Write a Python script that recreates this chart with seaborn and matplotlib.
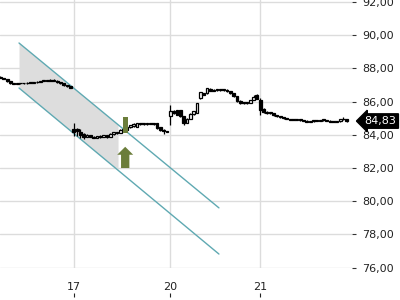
import numpy as np
import pandas as pd
import matplotlib
matplotlib.use("Agg")
import matplotlib.pyplot as plt
import matplotlib.transforms as mtransforms
from matplotlib.ticker import FuncFormatter
import seaborn as sns

# ---------------- data ----------------
opens = [87.50, 87.42, 87.36, 87.24, 87.12, 87.08, 87.10, 87.12, 87.10, 87.13,
         87.12, 87.16, 87.18, 87.24, 87.28, 87.26, 87.32, 87.26, 87.16, 87.10,
         87.00, 86.92,
         84.38, 84.38, 84.15, 84.05, 83.88, 83.98, 83.88, 83.82, 83.92, 83.86,
         83.98, 83.86, 84.02, 84.16, 84.12, 84.30, 84.30, 84.48, 84.52, 84.50,
         84.68, 84.64, 84.68, 84.66, 84.70, 84.72, 84.46, 84.32, 84.22,
         85.13, 85.45, 85.48, 85.50, 85.12, 84.74, 84.98, 85.24, 85.32, 86.20,
         86.50, 86.50, 86.76, 86.66, 86.70, 86.68, 86.68, 86.72, 86.62, 86.50,
         86.34, 86.06, 85.92, 85.90, 85.92, 86.10, 86.42,
         86.08, 85.56, 85.40, 85.36, 85.30, 85.20, 85.10, 85.06, 85.00, 84.96,
         84.90, 84.90, 84.92, 84.88, 84.86, 84.80, 84.82, 84.85, 84.84, 84.88,
         84.90, 84.85, 84.80, 84.79, 84.82, 84.96, 84.93]
closes = [87.42, 87.36, 87.22, 87.10, 87.08, 87.10, 87.12, 87.10, 87.13, 87.12,
          87.16, 87.18, 87.24, 87.28, 87.26, 87.32, 87.26, 87.16, 87.10, 87.00,
          86.92, 86.84,
          84.15, 84.22, 83.98, 83.88, 84.00, 83.88, 83.82, 83.92, 83.86, 83.98,
          83.84, 84.06, 84.16, 84.10, 84.32, 84.38, 84.50, 84.58, 84.68, 84.72,
          84.64, 84.68, 84.66, 84.70, 84.66, 84.42, 84.28, 84.22, 84.20,
          85.45, 85.32, 85.22, 85.12, 84.74, 84.98, 85.26, 85.42, 85.92, 86.56,
          86.42, 86.80, 86.66, 86.70, 86.68, 86.70, 86.72, 86.62, 86.50, 86.34,
          86.06, 85.92, 85.90, 85.94, 86.10, 86.30, 86.18,
          85.52, 85.36, 85.30, 85.30, 85.20, 85.12, 85.06, 85.00, 84.96, 84.90,
          84.90, 84.92, 84.88, 84.86, 84.80, 84.82, 84.85, 84.84, 84.88, 84.90,
          84.85, 84.80, 84.79, 84.84, 84.96, 84.93, 84.83]
highs = [87.52, 87.44, 87.38, 87.26, 87.14, 87.12, 87.14, 87.14, 87.16, 87.15,
         87.18, 87.22, 87.26, 87.32, 87.30, 87.34, 87.34, 87.28, 87.18, 87.12,
         87.02, 86.94,
         84.72, 84.42, 84.38, 84.10, 84.04, 84.00, 83.92, 83.95, 83.96, 84.00,
         84.00, 84.08, 84.18, 84.18, 84.34, 84.42, 84.52, 84.62, 84.70, 84.74,
         84.72, 84.72, 84.70, 84.74, 84.72, 84.74, 84.50, 84.36, 84.24,
         85.80, 85.50, 85.50, 85.52, 85.14, 85.00, 85.30, 85.46, 85.94, 86.58,
         86.54, 86.84, 86.80, 86.74, 86.72, 86.74, 86.76, 86.74, 86.64, 86.52,
         86.36, 86.08, 85.94, 85.96, 86.12, 86.40, 86.48,
         86.20, 85.64, 85.44, 85.38, 85.32, 85.22, 85.12, 85.08, 85.02, 84.98,
         84.92, 84.94, 84.94, 84.90, 84.88, 84.84, 84.87, 84.87, 84.90, 84.92,
         84.92, 84.87, 84.82, 84.86, 84.98, 85.10, 84.95]
lows = [87.40, 87.34, 87.20, 87.08, 87.06, 87.06, 87.08, 87.08, 87.08, 87.10,
        87.10, 87.14, 87.16, 87.22, 87.22, 87.24, 87.22, 87.14, 87.06, 86.96,
        86.88, 86.80,
        83.95, 83.90, 83.80, 83.72, 83.84, 83.84, 83.78, 83.78, 83.82, 83.84,
        83.80, 83.84, 84.00, 84.06, 84.10, 84.26, 84.28, 84.42, 84.50, 84.48,
        84.60, 84.62, 84.62, 84.64, 84.60, 84.38, 84.22, 84.06, 84.18,
        84.60, 85.28, 85.18, 85.08, 84.60, 84.70, 84.96, 85.20, 85.30, 86.16,
        86.38, 86.48, 86.62, 86.64, 86.64, 86.66, 86.66, 86.58, 86.46, 86.30,
        86.00, 85.88, 85.86, 85.88, 85.90, 86.08, 86.14,
        85.20, 85.30, 85.24, 85.26, 85.16, 85.08, 85.02, 84.98, 84.94, 84.88,
        84.88, 84.88, 84.86, 84.84, 84.78, 84.78, 84.80, 84.82, 84.82, 84.86,
        84.83, 84.78, 84.77, 84.77, 84.80, 84.90, 84.80]

day_tick_index = [22, 51, 78]
day_tick_labels = ["17", "20", "21"]
y_ticks = [76, 78, 80, 82, 84, 86, 88, 90, 92]

channel_x = [5.56, 65.6]
channel_upper = [89.53, 79.60]
channel_lower = [86.82, 76.82]
shade_end_x = 35.3

signal_x = 37.45
signal_bar = [84.12, 85.07]
arrow_base, arrow_tip = 82.0, 83.28

last_price = closes[-1]

# ---------------- figure ----------------
sns.set_style("white")
plt.rcParams["font.family"] = ["DejaVu Sans"]

df = pd.DataFrame({"idx": np.arange(len(closes)), "open": opens, "high": highs,
                   "low": lows, "close": closes})

fig = plt.figure(figsize=(4, 3), dpi=100)
ax = fig.add_axes([0.0, 0.1067, 0.88, 0.8933])
ax.set_xlim(-0.15, 105.56)
ax.set_ylim(75.98, 92.12)

grid_c = "#dcdcdc"
for t in y_ticks:
    ax.axhline(t, color=grid_c, lw=1, zorder=0)
for t in day_tick_index:
    ax.axvline(t, color=grid_c, lw=1, zorder=0)

# channel shading
xs = np.array([channel_x[0], shade_end_x])
up = np.interp(xs, channel_x, channel_upper)
lo = np.interp(xs, channel_x, channel_lower)
ax.fill_between(xs, lo, up, color="#dddddd", zorder=1, lw=0)

chan = pd.DataFrame({"x": channel_x * 2,
                     "y": channel_upper + channel_lower,
                     "line": ["upper"] * 2 + ["lower"] * 2})
sns.lineplot(data=chan, x="x", y="y", units="line", estimator=None,
             color="#5fa9b2", lw=1, ax=ax, zorder=2)

# candles
ax.vlines(df["idx"], df["low"], df["high"], color="black", lw=0.9, zorder=3)
body_bottom = np.minimum(df["open"], df["close"])
body_h = np.maximum(np.abs(df["close"] - df["open"]), 0.05)
up_mask = df["close"] > df["open"]
ax.bar(df["idx"], body_h, bottom=body_bottom, width=0.85,
       color=np.where(up_mask, "white", "black"), edgecolor="black",
       linewidth=0.9, zorder=4)

# signal markers
green = "#6b7d3a"
ax.bar([signal_x], [signal_bar[1] - signal_bar[0]], bottom=[signal_bar[0]],
       width=1.4, color=green, zorder=5, lw=0)
ax.arrow(signal_x, arrow_base, 0, arrow_tip - arrow_base, width=2.5,
         head_width=4.8, head_length=0.48, length_includes_head=True,
         color=green, zorder=5, lw=0)

# axes styling
for s in ax.spines.values():
    s.set_visible(False)
ax.yaxis.tick_right()
ax.set_yticks(y_ticks)
ax.yaxis.set_major_formatter(FuncFormatter(lambda v, p: f"{v:.2f}".replace(".", ",")))
ax.tick_params(axis="y", which="major", right=True, left=False, length=3,
               width=0.8, color="#333333", pad=4.5, labelsize=8, labelcolor="#222222")
ax.set_xticks(day_tick_index)
ax.set_xticklabels(day_tick_labels)
ax.tick_params(axis="x", length=0, pad=10, labelsize=8, labelcolor="#222222")
ax.set_xlabel("")
ax.set_ylabel("")

sec = ax.secondary_xaxis(-0.108)
sec.set_xticks(day_tick_index)
sec.set_xticklabels([])
sec.tick_params(axis="x", direction="in", length=3, width=0.8, color="#222222")
sec.spines["bottom"].set_visible(False)

# last price tag
trans = mtransforms.blended_transform_factory(ax.transAxes, ax.transData)
ax.text(1.035, last_price, f"{last_price:.2f}".replace(".", ","), transform=trans,
        color="white", fontsize=8, va="center", ha="left", zorder=10,
        bbox=dict(boxstyle="larrow,pad=0.2", fc="black", ec="black"),
        clip_on=False)

fig.savefig("out.png", dpi=100)
